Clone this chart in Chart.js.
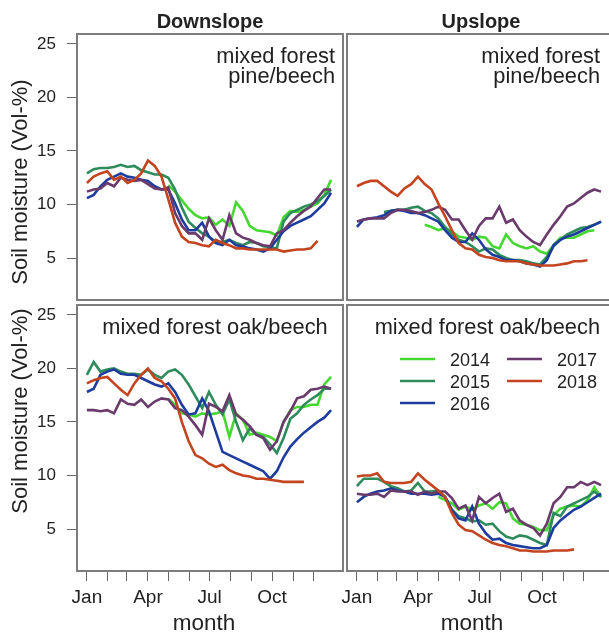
<!DOCTYPE html>
<html>
<head>
<meta charset="utf-8">
<title>Soil moisture</title>
<script src="https://cdn.jsdelivr.net/npm/chart.js@4.4.1/dist/chart.umd.min.js"></script>
<style>
  html, body { margin: 0; padding: 0; background: #fff; width: 609px; height: 633px; overflow: hidden; }
  canvas { position: absolute; left: 0; top: 0; }
</style>
</head>
<body>
<canvas id="downPine" width="620" height="633"></canvas>
<canvas id="upPine" width="620" height="633"></canvas>
<canvas id="downOak" width="620" height="633"></canvas>
<canvas id="upOak" width="620" height="633"></canvas>
<script>
// day of year for every reading
const days = [1, 11, 21, 31, 41, 51, 61, 71, 81, 91, 101, 111, 121, 131, 141, 151, 161, 171, 181,
  191, 201, 211, 221, 231, 241, 251, 261, 271, 281, 291, 301, 311, 321, 331, 341, 351, 361];

const years = ['2014', '2015', '2016', '2017', '2018'];
const yearColors = ['#46d732', '#2e8b5c', '#1e3c9e', '#6a3a6c', '#c3441f'];
const monthStarts = [1, 32, 60, 91, 121, 152, 182, 213, 244, 274, 305, 335];
const monthLabels = ['Jan', '', '', 'Apr', '', '', 'Jul', '', '', 'Oct', '', ''];
const yTicks = [5, 10, 15, 20, 25];

// Downslope, mixed forest pine/beech
const downPine2014 = [null, null, null, null, null, null, null, null, null, null, null, null,
  11.8, 11.2, 10.4, 9.6, 9.0, 8.7, 8.8, 8.1, 8.6, 8.0, 10.2, 9.4, 8.0, 7.6, 7.5, 7.4, 7.1, 8.8, 9.4, 9.3, 9.5, 9.8, 10.1, 10.9, 12.3];
const downPine2015 = [12.9, 13.3, 13.4, 13.4, 13.5, 13.7, 13.5, 13.6, 13.2, 13.0, 12.8, 12.8, 12.5, 11.4, 9.7, 8.4, 7.8, 7.3, 7.0,
  6.5, 6.5, 6.7, 6.4, 6.2, 6.5, 6.4, 6.1, 6.0, 5.9, 8.4, 9.2, 9.5, 9.8, 10.0, 10.3, 10.8, 11.4];
const downPine2016 = [10.6, 10.9, 11.7, 12.3, 12.6, 12.9, 12.6, 12.5, 12.3, 12.2, 11.7, 11.4, 11.4, 10.1, 8.6, 7.6, 7.6, 8.3, 7.0,
  6.4, 6.2, 6.7, 6.2, 6.1, 5.9, 5.8, 5.6, 5.9, 6.7, 7.5, 8.0, 8.3, 8.6, 8.9, 9.5, 10.1, 11.1];
const downPine2017 = [11.2, 11.4, 11.5, 12.0, 11.7, 12.5, 12.3, 12.2, 12.3, 11.9, 11.5, 11.4, 11.6, 9.2, 8.0, 7.3, 7.3, 6.7, 8.7,
  7.6, 6.7, 9.0, 7.3, 6.9, 6.7, 6.4, 6.2, 6.1, 7.3, 7.6, 8.3, 8.9, 9.4, 9.8, 10.6, 11.4, 11.4];
const downPine2018 = [12.0, 12.6, 12.9, 13.1, 12.3, 12.6, 12.0, 12.3, 12.9, 14.1, 13.6, 12.6, 10.5, 8.3, 7.0, 6.5, 6.4, 6.2, 6.1,
  6.7, 6.4, 6.2, 5.9, 5.9, 5.8, 5.8, 5.8, 5.8, 5.8, 5.6, 5.7, 5.8, 5.8, 5.9, 6.6, null, null];

// Upslope, mixed forest pine/beech
const upPine2014 = [null, null, null, null, null, null, null, null, null, null,
  8.1, 7.9, 7.6, 7.8, 7.5, 7.0, 6.9, 6.7, 7.0, 6.9, 6.1, 5.9, 7.2, 6.4, 6.1, 5.9, 6.1, 5.6, 5.4, 6.2, 6.9, 6.9, 6.9, 7.2, 7.5, 7.6, null];
const upPine2015 = [null, null, null, null, 9.3, 9.4, 9.5, 9.5, 9.7, 9.8, 9.4, 9.2, 8.7, 7.9, 7.2, 6.7, 6.5, 6.1, 5.6,
  5.9, 5.8, 5.3, 5.0, 4.8, 4.8, 4.7, 4.5, 4.4, 5.1, 6.1, 6.7, 7.2, 7.5, 7.8, 7.9, 8.1, 8.4];
const upPine2016 = [7.9, 8.6, 8.7, 8.8, 9.0, 9.4, 9.5, 9.4, 9.2, 9.2, 9.0, 8.7, 8.4, 7.6, 6.9, 6.5, 6.5, 7.3, 6.7,
  5.8, 5.3, 5.1, 4.8, 4.8, 4.7, 4.5, 4.4, 4.2, 4.8, 6.2, 6.7, 7.0, 7.2, 7.5, 7.8, 8.1, 8.4];
const upPine2017 = [8.4, 8.6, 8.7, 8.7, 8.7, 9.2, 9.5, 9.5, 9.4, 9.2, 9.3, 9.5, 9.8, 9.5, 8.6, 8.6, 7.6, 6.7, 8.0,
  8.7, 8.7, 9.8, 8.3, 8.6, 7.6, 7.0, 6.5, 6.2, 7.2, 8.1, 8.9, 9.8, 10.1, 10.6, 11.1, 11.4, 11.2];
const upPine2018 = [11.7, 12.0, 12.2, 12.2, 11.7, 11.2, 10.8, 11.5, 11.9, 12.6, 11.9, 11.4, 10.1, 8.9, 7.6, 6.4, 5.9, 5.8, 5.3,
  5.1, 5.0, 4.8, 4.7, 4.7, 4.7, 4.5, 4.4, 4.3, 4.3, 4.3, 4.4, 4.5, 4.7, 4.7, 4.8, null, null];

// Downslope, mixed forest oak/beech
const downOak2014 = [null, null, null, null, null, null, null, null, null, null, null, null,
  17.2, 16.6, 15.8, 15.7, 15.5, 15.8, 15.7, 15.8, 16.0, 13.6, 15.8, 15.2, 13.8, 14.0, 13.8, 13.6, 13.2, 15.0, 16.1, 16.4, 16.4, 16.6, 16.6, 18.5, 19.2];
const downOak2015 = [19.4, 20.6, 19.7, 19.9, 20.0, 19.7, 19.5, 19.5, 19.4, 19.9, 19.4, 19.1, 19.7, 19.9, 19.4, 18.5, 17.4, 16.3, 17.8,
  16.6, 15.7, 17.1, 15.0, 13.3, 14.4, 13.8, 13.6, 12.9, 12.1, 13.5, 15.3, 15.8, 16.6, 17.1, 17.5, 18.1, 18.1];
const downOak2016 = [17.8, 18.1, 19.4, 19.7, 19.9, 19.5, 19.4, 19.4, 19.1, 18.8, 18.5, 18.3, 18.6, 17.8, 16.6, 15.7, 15.8, 17.2, 16.0,
  14.1, 12.2, 11.9, 11.6, 11.3, 11.0, 10.7, 10.4, 9.7, 10.4, 11.7, 12.7, 13.4, 14.0, 14.5, 15.0, 15.4, 16.1];
const downOak2017 = [16.1, 16.1, 16.0, 16.1, 15.8, 17.1, 16.7, 16.6, 17.1, 16.4, 16.9, 17.2, 17.1, 16.3, 16.1, 15.5, 14.7, 13.8, 16.7,
  16.4, 16.0, 17.5, 15.7, 15.2, 14.6, 13.8, 13.5, 12.4, 13.2, 15.0, 16.0, 17.2, 17.4, 18.0, 18.1, 18.3, 18.1];
const downOak2018 = [18.6, 18.9, 19.1, 19.2, 18.6, 18.0, 17.5, 18.6, 19.4, 20.0, 19.1, 18.8, 18.1, 17.2, 15.0, 13.2, 11.9, 11.6, 11.1,
  10.8, 11.0, 10.5, 10.2, 10.0, 9.9, 9.7, 9.7, 9.6, 9.5, 9.4, 9.4, 9.4, 9.4, null, null, null, null];

// Upslope, mixed forest oak/beech
const upOak2014 = [null, null, null, null, null, null, null, null, null, null, null, null,
  8.0, 7.7, 7.4, 6.8, 7.1, 6.8, 7.2, 7.4, 6.9, 7.5, 7.4, 6.0, 5.5, 5.4, 5.2, 4.9, 4.9, 6.3, 6.9, 7.1, 7.2, 7.1, 7.7, 8.9, 8.0];
const upOak2015 = [9.0, 9.7, 9.7, 9.7, 9.4, 9.0, 8.8, 8.5, 8.6, 9.3, 8.5, 8.5, 8.6, 8.0, 6.8, 6.2, 6.0, 5.7, 5.8,
  5.4, 5.5, 4.8, 4.3, 4.1, 4.4, 4.3, 4.0, 3.7, 3.5, 6.5, 6.2, 7.1, 7.4, 7.7, 8.0, 8.5, 8.0];
const upOak2016 = [7.5, 8.0, 8.3, 8.5, 8.6, 8.8, 8.6, 8.5, 8.3, 8.3, 8.3, 8.2, 8.3, 8.0, 6.8, 6.0, 5.8, 7.1, 5.5,
  4.6, 4.0, 4.1, 3.7, 3.5, 3.4, 3.3, 3.2, 3.2, 3.5, 5.1, 5.8, 6.3, 6.8, 7.1, 7.5, 7.9, 8.3];
const upOak2017 = [8.3, 8.2, 8.2, 8.3, 8.0, 8.6, 8.5, 8.5, 8.5, 8.2, 8.5, 8.3, 8.5, 8.5, 7.9, 6.9, 7.2, 5.8, 8.0,
  7.4, 7.9, 8.3, 6.6, 6.9, 5.8, 5.4, 5.1, 4.4, 5.5, 7.4, 8.0, 8.9, 8.9, 9.4, 9.1, 9.4, 9.1];
const upOak2018 = [9.9, 10.0, 10.0, 10.2, 9.4, 9.3, 9.3, 9.3, 9.4, 10.2, 9.6, 9.1, 8.6, 8.0, 6.5, 5.4, 4.9, 4.8, 4.4,
  4.0, 3.7, 3.5, 3.4, 3.2, 3.0, 3.0, 2.9, 2.9, 2.9, 3.0, 3.0, 3.0, 3.1, null, null, null, null];

Chart.defaults.font.family = '"Liberation Sans", Arial, Helvetica, sans-serif';
Chart.defaults.color = '#222';

const W = 620, H = 633;
const textColor = '#222';
const fam = '"Liberation Sans", Arial, Helvetica, sans-serif';

const framePlugin = {
  id: 'frame',
  afterDraw(chart) {
    const a = chart.chartArea, ctx = chart.ctx;
    ctx.save();
    ctx.strokeStyle = '#7d7d7d';
    ctx.lineWidth = 2;
    ctx.strokeRect(a.left, a.top, a.right - a.left, a.bottom - a.top);
    ctx.restore();
  }
};

function drawText(ctx, txt, x, y, font, align, rot) {
  ctx.save();
  ctx.font = font;
  ctx.fillStyle = textColor;
  ctx.textAlign = align || 'center';
  ctx.textBaseline = 'alphabetic';
  ctx.translate(x, y);
  if (rot) ctx.rotate(rot);
  ctx.fillText(txt, 0, 0);
  ctx.restore();
}

function decoPlugin(extra) {
  return { id: 'deco', afterDraw(chart) { extra(chart.ctx, chart); } };
}

function legendDraw(ctx, chart) {
  const ds = chart.data.datasets;
  const cols = [[0, 1, 2], [3, 4]];
  const colX = [400, 507];
  const rowY = [359, 381, 403];
  cols.forEach((col, c) => {
    col.forEach((i, r) => {
      ctx.save();
      ctx.strokeStyle = ds[i].borderColor;
      ctx.lineWidth = 2.6;
      ctx.beginPath();
      ctx.moveTo(colX[c], rowY[r]);
      ctx.lineTo(colX[c] + 35, rowY[r]);
      ctx.stroke();
      ctx.restore();
      drawText(ctx, ds[i].label, colX[c] + 50, rowY[r] + 6.5, '18px ' + fam, 'left');
    });
  });
}

function makePanel(id, box, series, opt) {
  const yW = opt.yAxis ? 77 : 0;
  const xH = opt.xAxis ? 40 : 0;
  return new Chart(document.getElementById(id), {
    type: 'line',
    data: {
      datasets: series.map((vals, i) => ({
        label: years[i],
        data: days.map((d, k) => ({ x: d, y: vals[k] })),
        borderColor: yearColors[i],
        borderWidth: 2.6,
        pointRadius: 0,
        tension: 0,
        fill: false,
        spanGaps: false,
        order: 4 - i
      }))
    },
    options: {
      responsive: false,
      animation: false,
      devicePixelRatio: 1,
      layout: { padding: { left: box[0] - yW, top: box[1], right: W - box[2], bottom: H - box[3] - xH } },
      plugins: { legend: { display: false }, tooltip: { enabled: false } },
      scales: {
        x: {
          type: 'linear',
          min: -13.6,
          max: 378.6,
          display: opt.xAxis,
          afterBuildTicks: s => { s.ticks = monthStarts.map(v => ({ value: v })); },
          afterFit: s => { s.height = xH; },
          ticks: {
            autoSkip: false, maxRotation: 0, minRotation: 0, padding: 5, color: textColor,
            font: { size: 19 },
            callback: v => monthLabels[monthStarts.indexOf(v)]
          },
          grid: { drawOnChartArea: false, drawTicks: true, tickLength: 10, color: '#666', lineWidth: 1 },
          border: { display: false }
        },
        y: {
          type: 'linear',
          min: 1.08,
          max: 25.92,
          display: opt.yAxis,
          afterBuildTicks: s => { s.ticks = yTicks.map(v => ({ value: v })); },
          afterFit: s => { s.width = yW; },
          ticks: { padding: 11, color: textColor, font: { size: 17 } },
          grid: { drawOnChartArea: false, drawTicks: true, tickLength: 10, color: '#666', lineWidth: 1 },
          border: { display: false }
        }
      }
    },
    plugins: [framePlugin, decoPlugin(opt.deco)]
  });
}

makePanel('downPine', [77, 34, 343, 300],
  [downPine2014, downPine2015, downPine2016, downPine2017, downPine2018],
  { yAxis: true, xAxis: false, deco: ctx => {
    drawText(ctx, 'Downslope', 210, 28, 'bold 20px ' + fam, 'center');
    drawText(ctx, 'mixed forest', 335, 63, '21.8px ' + fam, 'right');
    drawText(ctx, 'pine/beech', 335, 83, '21.8px ' + fam, 'right');
    drawText(ctx, 'Soil moisture (Vol-%)', 27, 182, '22px ' + fam, 'center', -Math.PI / 2);
  } });

makePanel('upPine', [347, 34, 613, 300],
  [upPine2014, upPine2015, upPine2016, upPine2017, upPine2018],
  { yAxis: false, xAxis: false, deco: ctx => {
    drawText(ctx, 'Upslope', 481, 28, 'bold 20px ' + fam, 'center');
    drawText(ctx, 'mixed forest', 600, 63, '21.8px ' + fam, 'right');
    drawText(ctx, 'pine/beech', 600, 83, '21.8px ' + fam, 'right');
  } });

makePanel('downOak', [77, 305, 343, 571],
  [downOak2014, downOak2015, downOak2016, downOak2017, downOak2018],
  { yAxis: true, xAxis: true, deco: ctx => {
    drawText(ctx, 'mixed forest oak/beech', 215, 334, '21.8px ' + fam, 'center');
    drawText(ctx, 'Soil moisture (Vol-%)', 27, 411, '22px ' + fam, 'center', -Math.PI / 2);
    drawText(ctx, 'month', 204, 630, '22.5px ' + fam, 'center');
  } });

makePanel('upOak', [347, 305, 613, 571],
  [upOak2014, upOak2015, upOak2016, upOak2017, upOak2018],
  { yAxis: false, xAxis: true, deco: (ctx, chart) => {
    drawText(ctx, 'mixed forest oak/beech', 600, 334, '21.8px ' + fam, 'right');
    drawText(ctx, 'month', 472, 630, '22.5px ' + fam, 'center');
    legendDraw(ctx, chart);
  } });
</script>
</body>
</html>
